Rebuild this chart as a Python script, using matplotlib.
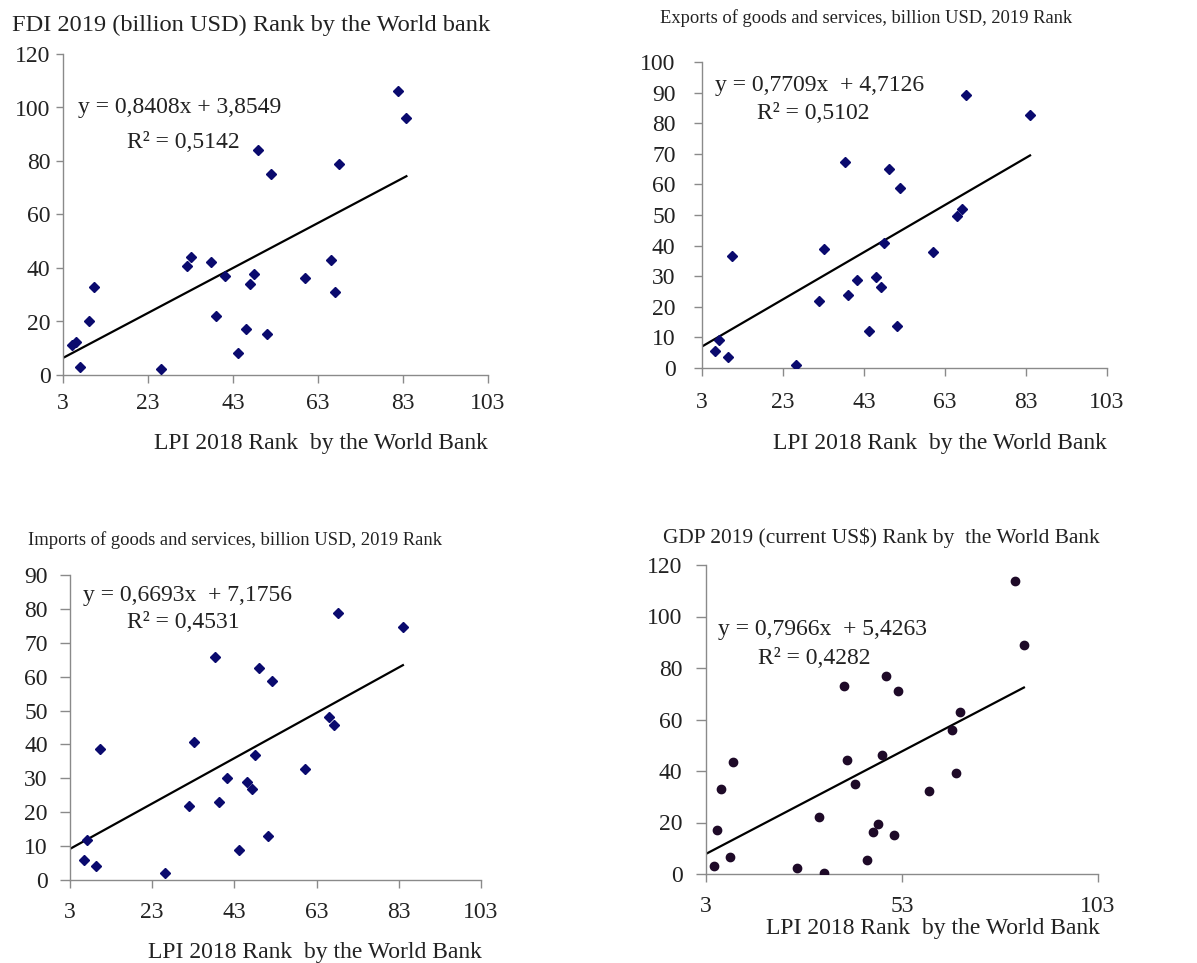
import matplotlib
matplotlib.use("Agg")
import matplotlib.pyplot as plt
import numpy as np

W, H = 1197, 963

# ---- data ----
fdi_x = [5.2, 6.1, 7.1, 9.1, 10.3, 26.1, 32.1, 33.2, 37.9, 38.9, 41.1, 44.1, 46.0, 47.0, 48.0, 48.9, 50.9, 51.9, 59.9, 66.0, 67.0, 68.0, 81.8, 83.8]
fdi_y = [11.2, 12.2, 3.1, 20, 33, 2.1, 40.9, 44, 42.2, 22.2, 37, 8.1, 17.2, 34, 37.8, 84, 15.2, 75, 36.2, 43, 31, 78.7, 106, 96]

exp_x = [6.3, 7.1, 9.3, 10.3, 26.2, 31.9, 33.1, 38.2, 39.1, 41.2, 44.2, 46.0, 47.2, 48.0, 49.1, 51.1, 52.0, 60.0, 66.0, 67.3, 68.1, 84.0]
exp_y = [5.7, 9.0, 3.6, 36.7, 0.9, 22, 38.8, 67.2, 23.9, 28.9, 12, 29.9, 26.6, 40.8, 65, 13.6, 58.7, 37.8, 49.8, 52, 89.1, 82.8]

imp_x = [6.3, 7.2, 9.3, 10.2, 26.1, 32.0, 33.2, 38.2, 39.2, 41.2, 44.2, 46.0, 47.2, 48.1, 49.0, 51.1, 52.1, 60.1, 66.1, 67.2, 68.2, 84.0]
imp_y = [5.9, 11.8, 4.1, 38.8, 2.0, 21.9, 40.8, 65.9, 22.9, 30.0, 9.0, 28.8, 26.8, 36.9, 62.7, 13.0, 58.7, 32.7, 48.0, 45.7, 78.7, 74.7]

gdp_x = [5.0, 5.9, 6.8, 9.0, 9.9, 26.1, 31.9, 33.0, 38.1, 39.0, 40.9, 44.0, 45.7, 47.0, 47.9, 48.8, 50.9, 51.9, 60.0, 65.8, 66.8, 67.8, 81.8, 84.1]
gdp_y = [3.2, 17.2, 33.1, 6.5, 43.4, 2.3, 22.1, 0.4, 73.1, 44.1, 35.1, 5.3, 16.3, 19.4, 46.2, 77.0, 15.3, 70.9, 32.1, 56.1, 39.2, 62.9, 113.9, 89.1]

titles = ["FDI 2019 (billion USD) Rank by the World bank",
          "Exports of goods and services, billion USD, 2019 Rank",
          "Imports of goods and services, billion USD, 2019 Rank",
          "GDP 2019 (current US$) Rank by  the World Bank"]
xlabel = "LPI 2018 Rank  by the World Bank"
slopes = [0.8408, 0.7709, 0.6693, 0.7966]
intercepts = [3.8549, 4.7126, 7.1756, 5.4263]
eq_texts = ["y = 0,8408x + 3,8549", "y = 0,7709x  + 4,7126",
            "y = 0,6693x  + 7,1756", "y = 0,7966x  + 5,4263"]
r2_texts = ["R² = 0,5142", "R² = 0,5102", "R² = 0,4531", "R² = 0,4282"]
xticks_list = [[3, 23, 43, 63, 83, 103]] * 3 + [[3, 53, 103]]
yticks_list = [list(range(0, 121, 20)), list(range(0, 101, 10)),
               list(range(0, 91, 10)), list(range(0, 121, 20))]

xs = [fdi_x, exp_x, imp_x, gdp_x]
ys = [fdi_y, exp_y, imp_y, gdp_y]

# ---- layout (pixels) ----
boxes = [(63, 54, 488, 375), (702, 62, 1107, 368), (70, 575, 481, 880), (706, 565, 1098, 874)]
title_pos = [(12, 25, 17.6), (660, 18, 13.3), (28, 540, 13.4), (663, 538, 15.4)]
xlabel_pos = [(488, 443), (1107, 443), (482, 952), (1100, 928)]
eq_pos = [((78, 108), (127, 142)), ((715, 85), (757, 113)),
          ((83, 595), (127, 623)), ((718, 630), (758, 658))]
ypads = [4, 13, 9, 10]
ylens = [5, 6, 7, 7]
xpads = [7, 11, 10, 10]

plt.rcParams['font.family'] = ['Liberation Serif', 'DejaVu Serif']
fig = plt.figure(figsize=(W / 100, H / 100), dpi=100)
fig.patch.set_facecolor('white')

spine_col = '#8a8a8a'
text_col = '#222222'
fs = 17

def fx(px):
    return px / W

def fy(py):
    return 1 - py / H

for i in range(4):
    l, t, r, b = boxes[i]
    ax = fig.add_axes([fx(l), fy(b), (r - l) / W, (b - t) / H])
    if i < 3:
        ax.plot(xs[i], ys[i], linestyle='none', marker='D', markersize=5,
                color='#0a0a6e', zorder=3)
    else:
        ax.plot(xs[i], ys[i], linestyle='none', marker='o', markersize=6,
                color='#1e0a28', zorder=3)
    x0, x1 = 3, max(xs[i])
    lx = np.array([x0, x1])
    ax.plot(lx, slopes[i] * lx + intercepts[i], color='black', lw=1.6, zorder=2)
    ax.set_xlim(xticks_list[i][0], xticks_list[i][-1])
    ax.set_ylim(yticks_list[i][0], yticks_list[i][-1])
    ax.set_xticks(xticks_list[i])
    ax.set_yticks(yticks_list[i])
    for s in ['top', 'right']:
        ax.spines[s].set_visible(False)
    for s in ['left', 'bottom']:
        ax.spines[s].set_color(spine_col)
        ax.spines[s].set_linewidth(1.0)
    ax.tick_params(axis='both', direction='out', color=spine_col,
                   labelsize=fs, labelcolor=text_col, width=1.0)
    ax.tick_params(axis='x', pad=xpads[i], length=6)
    ax.tick_params(axis='y', pad=ypads[i], length=ylens[i])
    ax.patch.set_alpha(0)
    for sp in ax.spines.values():
        sp.set_clip_on(False)

    tx, ty, ts = title_pos[i]
    fig.text(fx(tx), fy(ty), titles[i], fontsize=ts, color=text_col,
             ha='left', va='center')
    xx, xy = xlabel_pos[i]
    fig.text(fx(xx), fy(xy), xlabel, fontsize=fs, color=text_col,
             ha='right', va='center')
    (ex, ey), (rx, ry) = eq_pos[i]
    fig.text(fx(ex), fy(ey), eq_texts[i], fontsize=fs, color=text_col,
             ha='left', va='center')
    fig.text(fx(rx), fy(ry), r2_texts[i], fontsize=fs, color=text_col,
             ha='left', va='center')

fig.savefig('out.png', dpi=100, facecolor='white')
